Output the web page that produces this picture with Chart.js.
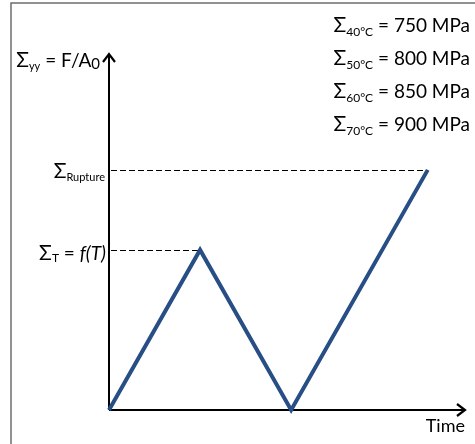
<!DOCTYPE html>
<html>
<head>
<meta charset="utf-8">
<script src="https://cdn.jsdelivr.net/npm/chart.js"></script>
<style>
  html, body { margin: 0; padding: 0; background: #fff; }
  #wrap { width: 475px; height: 444px; }
</style>
</head>
<body>
<div id="wrap"><canvas id="loadChart"></canvas></div>
<script>

// loading path: time (arbitrary units) vs nominal stress (arbitrary units)
const times = [0, 1, 2, 3.5];
const stress = [0, 2, 0, 3];

// stress levels marked with dashed guides
const levelT = 2;
const levelRupture = 3;

// rupture stress per temperature
const temps = ['40°C', '50°C', '60°C', '70°C'];
const ruptureMPa = [750, 800, 850, 900];

const FONT = 'Lato, "Open Sans", sans-serif';

// draw a run of text pieces, right-aligned at x; pieces: {t, size, dy, italic}
function richText(ctx, pieces, x, y, align) {
    let w = 0;
    pieces.forEach(p => {
        ctx.font = (p.italic ? 'italic ' : '') + p.size + 'px ' + FONT;
        p.w = ctx.measureText(p.t).width;
        w += p.w;
    });
    let cx = align === 'right' ? x - w : x;
    ctx.textAlign = 'left';
    ctx.textBaseline = 'alphabetic';
    pieces.forEach(p => {
        ctx.font = (p.italic ? 'italic ' : '') + p.size + 'px ' + FONT;
        ctx.fillText(p.t, cx, y + (p.dy || 0));
        cx += p.w;
    });
}

const decor = {
    id: 'decor',
    beforeDatasetsDraw(chart) {
        const ctx = chart.ctx;
        const xs = chart.scales.x, ys = chart.scales.y;
        const a = chart.chartArea;
        ctx.save();

        // frame
        ctx.strokeStyle = '#6d6d6d';
        ctx.lineWidth = 1.5;
        ctx.beginPath();
        ctx.moveTo(11, 444);
        ctx.lineTo(11, 3);
        ctx.lineTo(475, 3);
        ctx.stroke();

        // dashed guides
        ctx.strokeStyle = '#000';
        ctx.lineWidth = 1;
        ctx.setLineDash([6, 3]);
        const yR = ys.getPixelForValue(levelRupture);
        const yT = ys.getPixelForValue(levelT);
        ctx.beginPath();
        ctx.moveTo(a.left + 2, Math.round(yR) + 0.5);
        ctx.lineTo(xs.getPixelForValue(times[3]), Math.round(yR) + 0.5);
        ctx.moveTo(a.left + 2, Math.round(yT) + 0.5);
        ctx.lineTo(xs.getPixelForValue(times[1]), Math.round(yT) + 0.5);
        ctx.stroke();
        ctx.setLineDash([]);

        // axes with arrow heads
        ctx.lineWidth = 2;
        ctx.beginPath();
        ctx.moveTo(a.left, a.bottom);
        ctx.lineTo(a.left, a.top + 1);
        ctx.moveTo(a.left, a.bottom);
        ctx.lineTo(a.right - 1, a.bottom);
        ctx.stroke();
        ctx.lineWidth = 2.2;
        ctx.beginPath();
        ctx.moveTo(a.left - 6, a.top + 9);
        ctx.lineTo(a.left, a.top + 1);
        ctx.lineTo(a.left + 6, a.top + 9);
        ctx.moveTo(a.right - 9, a.bottom - 6);
        ctx.lineTo(a.right - 1, a.bottom);
        ctx.lineTo(a.right - 9, a.bottom + 6);
        ctx.stroke();

        // labels
        ctx.fillStyle = '#000';
        richText(ctx, [
            {t: 'Σ', size: 21},
            {t: 'yy', size: 11, dy: 3},
            {t: ' = F/A', size: 19},
            {t: '0', size: 15, dy: 2}
        ], a.left - 9, 67, 'right');

        richText(ctx, [
            {t: 'Σ', size: 21},
            {t: 'Rupture', size: 11, dy: 3}
        ], a.left - 4, yR + 8, 'right');

        richText(ctx, [
            {t: 'Σ', size: 21},
            {t: 'T', size: 12, dy: 2},
            {t: ' = ', size: 19},
            {t: 'f(T)', size: 19, italic: true}
        ], a.left - 3, yT + 10, 'right');

        temps.forEach((tc, i) => {
            richText(ctx, [
                {t: 'Σ', size: 21},
                {t: tc, size: 12, dy: 4},
                {t: ' = ' + ruptureMPa[i] + ' MPa', size: 19}
            ], 470, 32 + i * 33, 'right');
        });

        ctx.font = '18px ' + FONT;
        ctx.textAlign = 'right';
        ctx.textBaseline = 'alphabetic';
        ctx.fillText('Time', a.right - 1, a.bottom + 22);

        ctx.restore();
    }
};

new Chart(document.getElementById('loadChart'), {

    type: 'line',

    data: {
        datasets: [{
            data: times.map((t, i) => ({x: t, y: stress[i]})),
            borderColor: '#284e86',
            borderWidth: 4,
            pointRadius: 0,
            tension: 0,
            clip: false
        }]
    },

    options: {
        responsive: true,
        maintainAspectRatio: false,
        animation: false,
        layout: {
            padding: {left: 109, right: 9, top: 53, bottom: 34}
        },
        plugins: {
            legend: { display: false },
            tooltip: { enabled: false }
        },
        scales: {
            x: { type: 'linear', min: 0, max: 3.92, display: false },
            y: { min: 0, max: 4.46, display: false }
        }
    },

    plugins: [decor]

});

</script>
</body>
</html>
